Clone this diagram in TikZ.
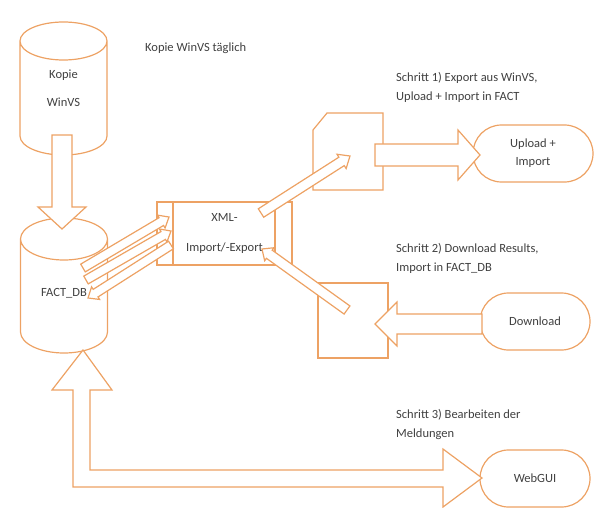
\documentclass[tikz,border=0pt]{standalone}
\usepackage{fontspec}
\setmainfont{Carlito}
\usepackage{xcolor}
\definecolor{flow}{HTML}{EDA264}
\definecolor{ink}{HTML}{404040}
\usetikzlibrary{calc, shapes.misc}

\newcommand{\blockarrow}[5]{%
  \path let \p1=($(#2)-(#1)$) in \pgfextra{%
    \pgfmathsetmacro{\baAng}{atan2(\y1,\x1)}%
    \pgfmathsetmacro{\baLen}{veclen(\x1,\y1)}%
    \xdef\baAng{\baAng}\xdef\baLen{\baLen}};
  \begin{scope}[shift={(#1)}, rotate=\baAng]
    \draw[blk] (0,-#3) -- (\baLen-#5,-#3) -- (\baLen-#5,-#4) -- (\baLen,0)
      -- (\baLen-#5,#4) -- (\baLen-#5,#3) -- (0,#3) -- cycle;
  \end{scope}}

\newcommand{\cylout}[2]{%
  \draw[outl] let \p1=(#1.north west), \p2=(#1.south east),
      \n1={(\x2-\x1)/2} in
    (\x1,\y1-#2pt) -- (\x1,\y2+#2pt)
      arc[start angle=180, end angle=360, x radius=\n1, y radius=#2pt]
      -- (\x2,\y1-#2pt)
    ($(#1.north)+(0,-#2)$) ellipse[x radius=\n1, y radius=#2pt];}

\begin{document}
\begin{tikzpicture}[x=1pt, y=1pt,
  font=\fontsize{12.5}{19}\selectfont, text=ink,
  outl/.style={draw=flow, line width=1.2pt},
  blk/.style={outl, fill=white},
  cylbox/.style={rectangle, inner sep=0pt, outer sep=0pt, align=center},
  box/.style={rectangle, outl, inner sep=0pt, outer sep=0pt, align=center},
  term/.style={rounded rectangle, outl, inner sep=0pt, outer sep=0pt,
    minimum height=57pt, align=center},
  note/.style={anchor=west, align=left, inner sep=0pt}
]
  \useasboundingbox (0,0) rectangle (597,-508);

  \node[cylbox, minimum width=87pt, minimum height=133pt] (kopie)
    at (63.5,-88.5) {Kopie\\[9pt]WinVS};
  \cylout{kopie}{19}
  \node[cylbox, minimum width=87pt, minimum height=135pt,
    text height=21pt, text depth=0pt] (fact)
    at (64,-285.5) {FACT\_DB};
  \cylout{fact}{21}

  \node[box, minimum width=135pt, minimum height=63pt] (xml)
    at (224.5,-233.5) {XML-\\[11pt]Import/-Export};
  \draw[outl] ($(xml.north west)+(16,0)$) -- ($(xml.south west)+(16,0)$);
  \draw[outl] ($(xml.north east)+(-17,0)$) -- ($(xml.south east)+(-17,0)$);

  \node[cylbox, minimum width=70pt, minimum height=77pt] (upbox) at (348,-151.5) {};
  \draw[outl] (upbox.south west) -- ($(upbox.north west)+(0,-17)$)
    -- ($(upbox.north west)+(14,0)$) -- (upbox.north east)
    -- (upbox.south east) -- cycle;
  \node[box, minimum width=70pt, minimum height=75pt] (dlbox) at (353,-320.5) {};

  \node[term, minimum width=120pt] (upl) at (533,-153.5) {Upload +\\[-1pt]Import};
  \node[term, minimum width=110pt] (dl) at (535,-321.5) {Download};
  \node[term, minimum width=110pt] (web) at (535,-478.5) {WebGUI};

  \node[note] (n0) at (145,-48) {Kopie WinVS täglich};
  \node[note] (n1) at (396,-87.5) {Schritt 1) Export aus WinVS,\\Upload + Import in FACT};
  \node[note] (n2) at (396,-258) {Schritt 2) Download Results,\\Import in FACT\_DB};
  \node[note] (n3) at (396,-424) {Schritt 3) Bearbeiten der\\Meldungen};

  \coordinate (a1s) at ($(kopie.south)+(-1.5,20)$);
  \coordinate (a1e) at ($(fact.north)+(-2,-11)$);
  \coordinate (a2s) at ($(fact.east)+(-24.5,17.5)$);
  \coordinate (a2e) at ($(xml.west)+(12,16.5)$);
  \coordinate (a3s) at ($(fact.east)+(-21.5,5.5)$);
  \coordinate (a3e) at ($(xml.west)+(14,2.5)$);
  \coordinate (a4s) at ($(xml.west)+(14,-11.5)$);
  \coordinate (a4e) at ($(fact.east)+(-19.5,-12.5)$);
  \coordinate (a5s) at ($(xml.north east)+(-31,-11)$);
  \coordinate (a5e) at ($(upbox.center)+(2,-4.5)$);
  \coordinate (a6s) at ($(upbox.east)+(-8,-3.5)$);
  \coordinate (a6e) at ($(upl.west)+(7,-1.5)$);
  \coordinate (a7s) at ($(dl.west)+(2,-2.5)$);
  \coordinate (a7e) at ($(dlbox.east)+(-13,-3.5)$);
  \coordinate (a8s) at ($(dlbox.north west)+(29,-27)$);
  \coordinate (a8e) at ($(xml.east)+(-30,-15.5)$);
  \coordinate (lup) at ($(fact.south)+(19,3)$);
  \coordinate (lrt) at ($(web.west)+(2,0.5)$);

  \blockarrow{a1s}{a1e}{10}{24}{22}
  \blockarrow{a2s}{a2e}{4.5}{7.5}{9}
  \blockarrow{a3s}{a3e}{4.5}{7.5}{9}
  \blockarrow{a4s}{a4e}{4.5}{7.5}{9}
  \blockarrow{a5s}{a5e}{5}{8.5}{10}
  \blockarrow{a6s}{a6e}{11}{25}{22}
  \blockarrow{a7s}{a7e}{10}{22}{22}
  \blockarrow{a8s}{a8e}{5}{8}{9}

  \draw[blk] (lup) -- ++(29,-40) -- ++(-22,0) |- ($(lrt)+(-39,8)$)
    -- ++(0,21) -- (lrt) -- ++(-39,-29) -- ++(0,20)
    -| ($(lup)+(-10,-40)$) -- ++(-21,0) -- cycle;
\end{tikzpicture}
\end{document}
